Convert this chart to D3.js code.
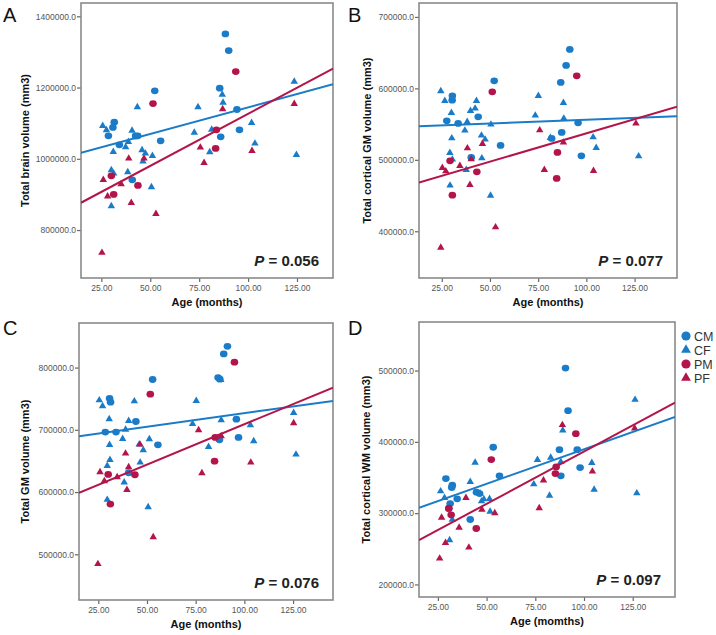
<!DOCTYPE html>
<html><head><meta charset="utf-8">
<script src="https://cdn.jsdelivr.net/npm/d3@7"></script>
<style>
html,body{margin:0;padding:0;background:#fff;}
svg{display:block;font-family:Arial,"Liberation Sans",sans-serif;}
</style></head>
<body><svg id="chart" width="716" height="635"></svg>
<script>
// ---------- DATA (age in months, volume in mm3) ----------
const xTickValues = [25, 50, 75, 100, 125];
const groups = ["CM", "CF", "PM", "PF"];

// Panel A: Total brain volume
const aCM = [[88.4,1350500],[90.1,1303700],[52.3,1190700],[85.5,1198100],[94.3,1138300],[31.6,1102800],[30.9,1088000],[28.6,1064500],[43.6,1064500],[42.5,1064000],[34.2,1039300],[55.3,1050500],[95.6,1081300],[86.0,1061700],[40.8,941100]];
const aPM = [[93.7,1244900],[51.4,1155100],[83.8,1081300],[83.4,1029000],[30.1,952300],[43.7,925200],[31.3,900000]];
const aCF = [[25.7,1092500],[27.6,1080400],[43.4,1144900],[74.4,1144900],[86.8,1180400],[87.2,1158000],[123.6,1216800],[40.7,1079400],[38.8,1047700],[37.4,1032700],[31.1,1019600],[45.8,1024300],[47.5,1015000],[51.1,1008400],[46.3,992500],[72.5,1073800],[81.4,1082200],[80.4,1018700],[101.8,1100900],[103.5,1043000],[124.7,1011200],[30.1,968200],[31.3,958900],[38.5,962600],[50.6,920600],[30.1,867300]];
const aPF = [[26.0,941100],[28.2,894400],[35.1,929000],[39.0,1000900],[40.3,876600],[46.8,1000900],[52.9,845800],[75.6,1031800],[77.5,988800],[87.0,1139300],[102.0,1022400],[123.6,1154200],[25.3,736400]];
const aFitC = [995000, 1494.6];   // [intercept, slope]
const aFitP = [833900, 2924.7];

// Panel B: Total cortical GM volume
const bCM = [[91.4,654500],[89.5,632100],[86.7,608300],[52.2,610600],[30.5,589600],[30.4,583500],[27.6,554600],[33.5,550900],[43.9,560200],[55.5,520100],[40.3,503300],[95.7,551800],[87.2,538300],[82.0,529900],[97.4,505600]];
const bPM = [[95.0,617600],[51.2,595200],[29.3,498600],[30.5,450500],[43.2,483200],[85.0,510300],[84.6,473900]];
const bCF = [[24.5,596100],[26.6,582600],[30.0,565800],[43.0,582600],[42.3,571900],[39.9,568600],[38.2,553200],[37.0,541100],[45.6,534100],[47.5,528500],[50.5,549500],[45.8,502300],[30.2,530300],[29.2,509800],[30.5,500500],[37.7,486000],[29.3,464100],[50.3,450100],[73.5,562100],[75.1,589600],[88.1,579800],[88.3,557900],[81.3,530800],[103.5,531700],[105.1,516800],[127.1,505100]];
const bPF = [[24.5,377300],[25.3,488800],[27.1,484100],[34.4,491600],[38.3,516300],[39.6,465000],[40.3,500900],[46.1,522400],[52.9,405700],[75.8,541500],[78.2,486000],[88.1,524300],[103.7,484600],[125.7,550900]];
const bFitC = [545700, 104.6];
const bFitP = [457850, 791.5];

// Panel C: Total GM volume
const cCM = [[91.3,834200],[89.4,821900],[86.5,784000],[87.4,781300],[52.9,780800],[30.8,750300],[31.3,744400],[28.6,696300],[34.1,696300],[44.3,713400],[55.6,675900],[95.9,717100],[97.0,687700],[87.2,684000],[40.6,631000]];
const cPM = [[94.9,808600],[51.7,757200],[85.0,687700],[84.7,649700],[30.1,628300],[43.8,627800],[31.2,580700]];
const cCF = [[25.5,747600],[27.2,738000],[43.5,746000],[75.3,746500],[30.6,717100],[40.6,714400],[39.0,700500],[37.5,685600],[30.8,675900],[46.0,676500],[48.1,667400],[51.2,685000],[31.0,651900],[46.5,647600],[29.6,642200],[38.3,615500],[29.6,587700],[50.6,575900],[73.4,709600],[88.1,715500],[87.9,780200],[81.6,672700],[103.1,707500],[104.8,681800],[125.3,727300],[126.5,660400]];
const cPF = [[25.9,632100],[28.1,617600],[34.7,624000],[39.0,662000],[39.7,603700],[40.6,640100],[46.4,676500],[53.2,527800],[76.5,699500],[78.2,630500],[88.1,689800],[103.3,647600],[125.3,710700],[24.8,484500]];
const cFitC = [683230, 434.8];
const cFitP = [579330, 1296];

// Panel D: Total cortical WM volume
const dCM = [[90.5,503500],[91.8,443700],[53.4,392400],[87.4,389100],[96.5,389100],[98.0,363900],[88.1,352300],[56.6,352300],[29.1,348500],[32.4,339200],[32.1,336000],[34.9,320100],[44.8,329400],[46.4,327500],[31.3,313500],[30.6,306100],[41.6,291100]];
const dPM = [[95.8,411500],[52.4,375100],[85.7,364900],[85.3,355500],[30.6,307000],[31.8,297700],[44.7,278500]];
const dCF = [[126.2,459100],[89.1,416200],[44.1,370900],[76.1,374700],[82.9,377900],[88.1,371900],[104.0,370500],[105.2,333100],[127.1,328000],[74.2,340600],[82.3,324700],[26.4,330800],[28.4,321500],[41.6,343900],[46.7,327500],[47.4,316800],[48.6,319600],[51.5,320100],[51.8,302300],[32.4,291100],[31.0,262200]];
const dPF = [[88.9,423700],[126.0,419000],[104.3,358500],[79.2,346100],[77.0,307000],[39.4,321500],[47.6,305100],[54.2,300000],[26.9,293900],[35.9,279900],[28.9,258500],[40.9,251900],[25.9,236500]];
const dFitC = [292670, 969.6];
const dFitP = [239760, 1466.5];

// ---------- LAYOUT / STYLE ----------
const colors = { C: "#1a7cc8", P: "#b3154a" };
const panels = [
  { label: "A", lx: 3,   ly: 22,  box: {l: 81,  t: 3,   r: 333, b: 278}, xDom: [14.6, 143.4], yDom: [665400, 1437300],
    yTicks: [800000, 1000000, 1200000, 1400000], yTitle: "Total brain volume (mm3)", yTitleX: 25, xTitle: "Age (months)",
    p: "0.056", data: {CM: aCM, CF: aCF, PM: aPM, PF: aPF}, fits: {C: aFitC, P: aFitP} },
  { label: "B", lx: 348, ly: 22,  box: {l: 419, t: 3,   r: 677, b: 278}, xDom: [13.2, 147.0], yDom: [334600, 719500],
    yTicks: [400000, 500000, 600000, 700000], yTitle: "Total cortical GM volume (mm3)", yTitleX: 367, xTitle: "Age (months)",
    p: "0.077", data: {CM: bCM, CF: bCF, PM: bPM, PF: bPF}, fits: {C: bFitC, P: bFitP} },
  { label: "C", lx: 3,   ly: 335, box: {l: 79,  t: 323, r: 333, b: 600}, xDom: [15.1, 145.5], yDom: [426600, 871600],
    yTicks: [500000, 600000, 700000, 800000], yTitle: "Total GM volume (mm3)", yTitleX: 25, xTitle: "Age (months)",
    p: "0.076", data: {CM: cCM, CF: cCF, PM: cPM, PF: cPF}, fits: {C: cFitC, P: cFitP} },
  { label: "D", lx: 348, ly: 335, box: {l: 419, t: 322, r: 675, b: 597}, xDom: [15.3, 146.7], yDom: [182400, 568100],
    yTicks: [200000, 300000, 400000, 500000], yTitle: "Total cortical WM volume (mm3)", yTitleX: 366, xTitle: "Age (momths)",
    p: "0.097", data: {CM: dCM, CF: dCF, PM: dPM, PF: dPF}, fits: {C: dFitC, P: dFitP} }
];

const svg = d3.select("#chart");
svg.append("rect").attr("width", 716).attr("height", 635).attr("fill", "#fff");

const triPath = d3.symbol().type(d3.symbolTriangle).size(24)();
const triLegend = d3.symbol().type(d3.symbolTriangle).size(42)();

panels.forEach((pn, i) => {
  const B = pn.box;
  const x = d3.scaleLinear().domain(pn.xDom).range([B.l, B.r]);
  const y = d3.scaleLinear().domain(pn.yDom).range([B.b, B.t]);
  const g = svg.append("g");

  const clipId = "clip" + i;
  svg.append("clipPath").attr("id", clipId).append("rect")
    .attr("x", B.l).attr("y", B.t).attr("width", B.r - B.l).attr("height", B.b - B.t);

  // axes
  const ya = g.append("g").attr("transform", `translate(${B.l},0)`)
    .call(d3.axisLeft(y).tickValues(pn.yTicks).tickFormat(d3.format(".1f")).tickSize(4).tickPadding(1));
  const xa = g.append("g").attr("transform", `translate(0,${B.b})`)
    .call(d3.axisBottom(x).tickValues(xTickValues).tickFormat(d3.format(".2f")).tickSize(4).tickPadding(3));
  [ya, xa].forEach(a => {
    a.select(".domain").remove();
    a.selectAll(".tick line").attr("stroke", "#666").attr("stroke-width", 1.2);
    a.selectAll(".tick text").attr("fill", "#555").attr("font-size", "8.5px")
      .attr("font-family", "Arial, 'Liberation Sans', sans-serif");
  });

  // frame
  g.append("rect").attr("x", B.l).attr("y", B.t).attr("width", B.r - B.l).attr("height", B.b - B.t)
    .attr("fill", "none").attr("stroke", "#8a8a8a").attr("stroke-width", 1.6);

  // points
  const pts = g.append("g").attr("clip-path", `url(#${clipId})`);
  groups.forEach(gr => {
    const col = colors[gr[0]];
    const arr = pn.data[gr];
    if (gr[1] === "M") {
      pts.selectAll(null).data(arr).join("ellipse")
        .attr("cx", d => x(d[0])).attr("cy", d => y(d[1]))
        .attr("rx", 3.8).attr("ry", 3.4).attr("fill", col);
    } else {
      pts.selectAll(null).data(arr).join("path")
        .attr("d", triPath)
        .attr("transform", d => `translate(${x(d[0])},${y(d[1])})`)
        .attr("fill", col);
    }
  });

  // regression lines
  const lines = g.append("g").attr("clip-path", `url(#${clipId})`);
  ["C", "P"].forEach(k => {
    const f = pn.fits[k];
    const xs = pn.xDom;
    lines.append("path")
      .datum(xs.map(a => [a, f[0] + f[1] * a]))
      .attr("d", d3.line().x(d => x(d[0])).y(d => y(d[1])))
      .attr("stroke", colors[k]).attr("stroke-width", 2).attr("fill", "none");
  });

  // P label
  const pt = g.append("text").attr("x", B.r - 14).attr("y", B.b - 12)
    .attr("text-anchor", "end").attr("font-size", "15px").attr("font-weight", "bold").attr("fill", "#222");
  pt.append("tspan").attr("font-style", "italic").text("P");
  pt.append("tspan").text(" = " + pn.p);

  // titles
  g.append("text").attr("x", (B.l + B.r) / 2).attr("y", B.b + 28)
    .attr("text-anchor", "middle").attr("font-size", "11px").attr("font-weight", "bold").attr("fill", "#111")
    .text(pn.xTitle);
  g.append("text")
    .attr("transform", `translate(${pn.yTitleX + 4},${(B.t + B.b) / 2}) rotate(-90)`)
    .attr("text-anchor", "middle").attr("font-size", "11px").attr("font-weight", "bold").attr("fill", "#111")
    .text(pn.yTitle);

  // panel letter
  g.append("text").attr("x", pn.lx).attr("y", pn.ly).attr("font-size", "20px").attr("fill", "#111").text(pn.label);
});

// legend
const leg = svg.append("g");
const legY = [336, 350, 364, 378];
groups.forEach((gr, i) => {
  const col = colors[gr[0]];
  if (gr[1] === "M") {
    leg.append("circle").attr("cx", 686).attr("cy", legY[i]).attr("r", 4.6).attr("fill", col);
  } else {
    leg.append("path").attr("d", triLegend).attr("transform", `translate(686,${legY[i]})`).attr("fill", col);
  }
  leg.append("text").attr("x", 694).attr("y", legY[i]).attr("dy", "0.36em")
    .attr("font-size", "12.5px").attr("fill", "#333").text(gr);
});
</script>
</body></html>
